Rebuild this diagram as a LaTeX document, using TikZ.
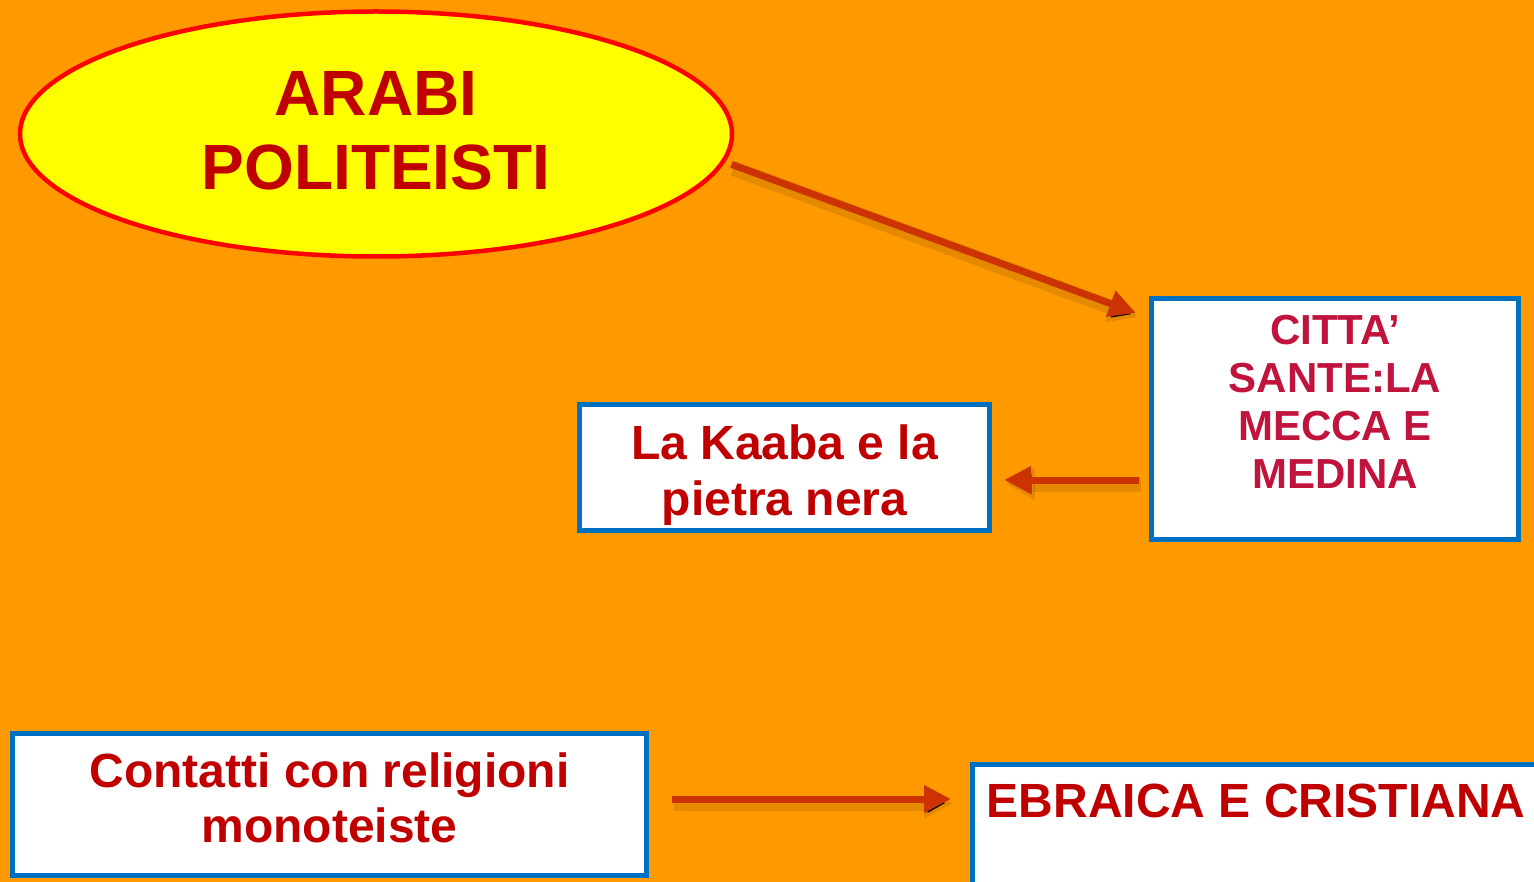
\documentclass[tikz,border=0pt]{standalone}
\usepackage{fontspec}
\setmainfont{Liberation Sans}
\usetikzlibrary{shapes.geometric,arrows.meta,calc}
\definecolor{bgorange}{HTML}{FF9900}
\definecolor{boxblue}{HTML}{0070C0}
\definecolor{darkred}{HTML}{C00000}
\definecolor{citycrimson}{HTML}{C0143C}
\definecolor{arrowred}{HTML}{CC3300}
\definecolor{ellred}{HTML}{FF0000}
\definecolor{ellyellow}{HTML}{FFFF00}
\tikzset{
  box/.style={rectangle, draw=boxblue, line width=5pt, fill=white, inner sep=0pt},
  txt/.style={align=center, inner sep=0pt},
  conn/.style={draw=arrowred, line width=7pt, -{Triangle[length=27pt,width=26pt]},
    preaction={draw=black, draw opacity=0.10, line width=15pt, transform canvas={xshift=2pt,yshift=-4pt}, -{Triangle[length=29pt,width=30pt]}}},
}
\begin{document}
\begin{tikzpicture}[x=1pt,y=-1pt]
\clip (0,0) rectangle (1534,882);
\fill[bgorange] (0,0) rectangle (1534,882);

% ellipse
\node[ellipse, draw=ellred, line width=4.5pt, fill=ellyellow, minimum width=712pt, minimum height=245pt, inner sep=0pt] (arabi) at (376,134) {};
\node[txt, text=darkred, font=\bfseries\fontsize{64}{74}\selectfont] (arabitxt) at ([yshift=3.5pt]arabi.center) {ARABI\\POLITEISTI};

% boxes
\node[box, minimum width=367pt, minimum height=241pt] (citta) at (1335,419) {};
\node[txt, text=citycrimson, font=\bfseries\fontsize{42}{48}\selectfont] (cittatxt) at ([yshift=17pt]citta.center) {CITTA’\\SANTE:LA\\MECCA E\\MEDINA};

\node[box, minimum width=410pt, minimum height=126pt] (kaaba) at (784.5,467.5) {};
\node[txt, text=darkred, font=\bfseries\fontsize{48}{56}\selectfont] (kaabatxt) at ([yshift=-7.8pt]kaaba.center) {La Kaaba e la\\pietra nera};

\node[box, minimum width=634pt, minimum height=142pt] (contatti) at (329.5,804.5) {};
\node[txt, text=darkred, font=\bfseries\fontsize{48}{55}\selectfont] (contattitxt) at ([yshift=6.6pt]contatti.center) {Contatti con religioni\\monoteiste};

\node[box, minimum width=728pt, minimum height=235.5pt] (ebraica) at (1336,882.25) {};
\node[txt, anchor=base west, text=darkred, font=\bfseries\fontsize{48}{55}\selectfont] (ebraicatxt) at ([xshift=17pt,yshift=-55pt]ebraica.north west) {EBRAICA E CRISTIANA};

% connectors
\draw[conn] ([xshift=8pt]arabi.-5) -- ([xshift=-13pt,yshift=-17pt]citta.north west);
\draw[conn] ([xshift=-10pt,yshift=-61pt]citta.west) -- ([xshift=12pt,yshift=-12.5pt]kaaba.east);
\draw[conn] ([xshift=23pt,yshift=5.5pt]contatti.east) -- ([xshift=-18.5pt,yshift=-37pt]ebraica.north west);
\end{tikzpicture}
\end{document}
